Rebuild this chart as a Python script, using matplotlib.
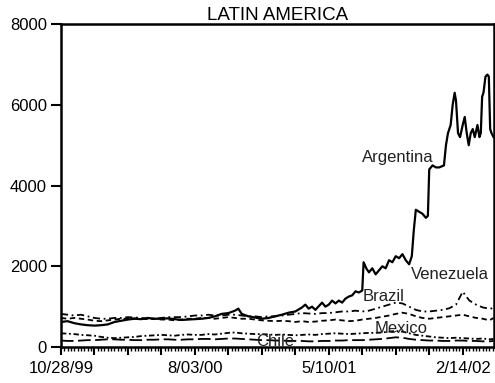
import numpy as np
import matplotlib
matplotlib.use("Agg")
import matplotlib.pyplot as plt
from matplotlib.ticker import FixedLocator, MultipleLocator, FuncFormatter

# Spreads (bp), business-day observations starting 10/28/99
obs = np.r_[np.arange(0, 641, 10), 646]

venezuela = [820, 800, 780, 800, 760, 720, 700, 700, 720, 720,
             740, 730, 720, 700, 700, 720, 740, 740, 740, 760,
             780, 780, 800, 780, 780, 800, 800, 780, 760, 760,
             740, 760, 760, 780, 800, 820, 840, 830, 820, 840,
             840, 860, 880, 880, 900, 880, 900, 950, 1000, 1050,
             1100, 1080, 1000, 920, 880, 880, 900, 920, 960, 1050,
             1370, 1150, 1050, 980, 950, 960]

brazil = [720, 700, 720, 700, 680, 650, 640, 660, 680, 700,
          700, 710, 700, 690, 700, 680, 680, 660, 680, 700,
          700, 720, 720, 700, 720, 740, 720, 700, 700, 680,
          660, 650, 640, 650, 640, 620, 640, 620, 630, 650,
          660, 680, 660, 640, 650, 680, 700, 720, 750, 780,
          820, 850, 820, 760, 720, 700, 720, 740, 760, 780,
          800, 760, 720, 700, 660, 720]

mexico = [340, 330, 320, 300, 290, 280, 250, 230, 220, 230,
          240, 250, 270, 280, 290, 300, 290, 280, 300, 310,
          300, 300, 320, 310, 330, 350, 360, 340, 330, 320,
          320, 310, 300, 310, 300, 290, 300, 310, 300, 320,
          330, 340, 330, 320, 330, 340, 350, 350, 360, 380,
          400, 380, 340, 300, 280, 260, 240, 230, 220, 230,
          220, 210, 200, 210, 190, 200]

chile = [160, 150, 150, 160, 170, 170, 180, 190, 190, 180,
         180, 170, 170, 180, 180, 190, 190, 180, 180, 190,
         190, 200, 200, 190, 200, 210, 210, 200, 190, 180,
         170, 170, 160, 160, 150, 150, 150, 140, 140, 150,
         150, 160, 160, 170, 170, 170, 180, 190, 200, 220,
         240, 230, 200, 180, 170, 160, 160, 150, 150, 160,
         160, 150, 150, 140, 140, 150]

arg_obs = [0, 10, 20, 30, 40, 50, 60, 70, 80, 90,
           100, 110, 120, 130, 140, 150, 160, 170, 180, 190,
           200, 210, 220, 230, 240, 250, 260, 265, 270, 280, 290,
           300, 310, 320, 330, 340, 350, 360, 365, 370, 375, 380, 390, 395,
           400, 405, 410, 415, 420, 425, 430, 435, 440, 445, 450, 452, 456,
           460, 465, 470, 475, 480, 485, 490, 495, 500, 505, 510, 515, 520,
           524, 527, 530, 535, 540, 545, 548, 550, 555, 560, 565, 572, 575,
           578, 582, 585, 588, 590, 593, 596, 600, 603, 606, 609, 612, 615,
           618, 622, 625, 627, 629, 631, 634, 637, 639, 641, 643, 646]
argentina = [620, 640, 590, 560, 540, 530, 540, 560, 620, 650,
             680, 700, 690, 720, 700, 700, 710, 690, 670, 680,
             690, 700, 720, 760, 820, 840, 900, 950, 820, 760, 730,
             700, 720, 760, 800, 850, 880, 980, 1050, 950, 1000, 920, 1100, 1000,
             1050, 1150, 1080, 1150, 1100, 1200, 1250, 1280, 1380, 1350, 1400, 2100, 1950,
             1850, 1950, 1800, 1900, 2000, 1950, 2150, 2100, 2250, 2200, 2300, 2150, 2050,
             2250, 2900, 3400, 3350, 3300, 3200, 3250, 4400, 4500, 4450, 4450, 4500, 5000,
             5300, 5500, 6000, 6300, 6100, 5300, 5200, 5500, 5700, 5300, 5000, 5300, 5400,
             5200, 5500, 5200, 5300, 6200, 6300, 6700, 6750, 6700, 5400, 5300, 5200]

date_labels = {0: "10/28/99", 200: "8/03/00", 400: "5/10/01", 600: "2/14/02"}

plt.rcParams["font.family"] = ["Liberation Sans", "DejaVu Sans"]

fig = plt.figure(figsize=(4.95, 3.83), dpi=100)
ax = fig.add_axes([0.123, 0.094, 0.874, 0.843])

ax.plot(arg_obs, argentina, color="black", lw=1.6, ls="-")
ax.plot(obs, venezuela, color="black", lw=1.3, ls=(0, (4, 2, 1, 2)))
ax.plot(obs, brazil, color="black", lw=1.3, ls=(0, (3, 2)))
ax.plot(obs, mexico, color="black", lw=1.3, ls=(0, (3, 1.5, 1, 1.5)))
ax.plot(obs, chile, color="black", lw=1.3, ls=(0, (7, 2.5)))

txt = dict(fontsize=12, ha="left", va="center", color="#222222")
ax.text(449, 4700, "Argentina", **txt)
ax.text(522, 1790, "Venezuela", **txt)
ax.text(451, 1240, "Brazil", **txt)
ax.text(469, 470, "Mexico", **txt)
ax.text(291, 125, "Chile", **txt)

ax.set_xlim(0, 646)
ax.set_ylim(0, 8000)
ax.set_title("LATIN AMERICA", fontsize=13.5, pad=2)

ax.xaxis.set_major_locator(MultipleLocator(50))
ax.xaxis.set_minor_locator(MultipleLocator(5))
ax.xaxis.set_major_formatter(FuncFormatter(lambda v, p: date_labels.get(int(round(v)), "")))
ax.yaxis.set_major_locator(FixedLocator([0, 2000, 4000, 6000, 8000]))

ax.tick_params(axis="x", which="major", direction="out", length=6, width=1.5,
               labelsize=12, pad=4)
ax.tick_params(axis="x", which="minor", direction="out", length=3, width=1)
ax.tick_params(axis="y", which="major", direction="out", length=7, width=1.5,
               labelsize=12, pad=3)

for s in ax.spines.values():
    s.set_linewidth(1.8)

fig.savefig("out.png", dpi=100)
